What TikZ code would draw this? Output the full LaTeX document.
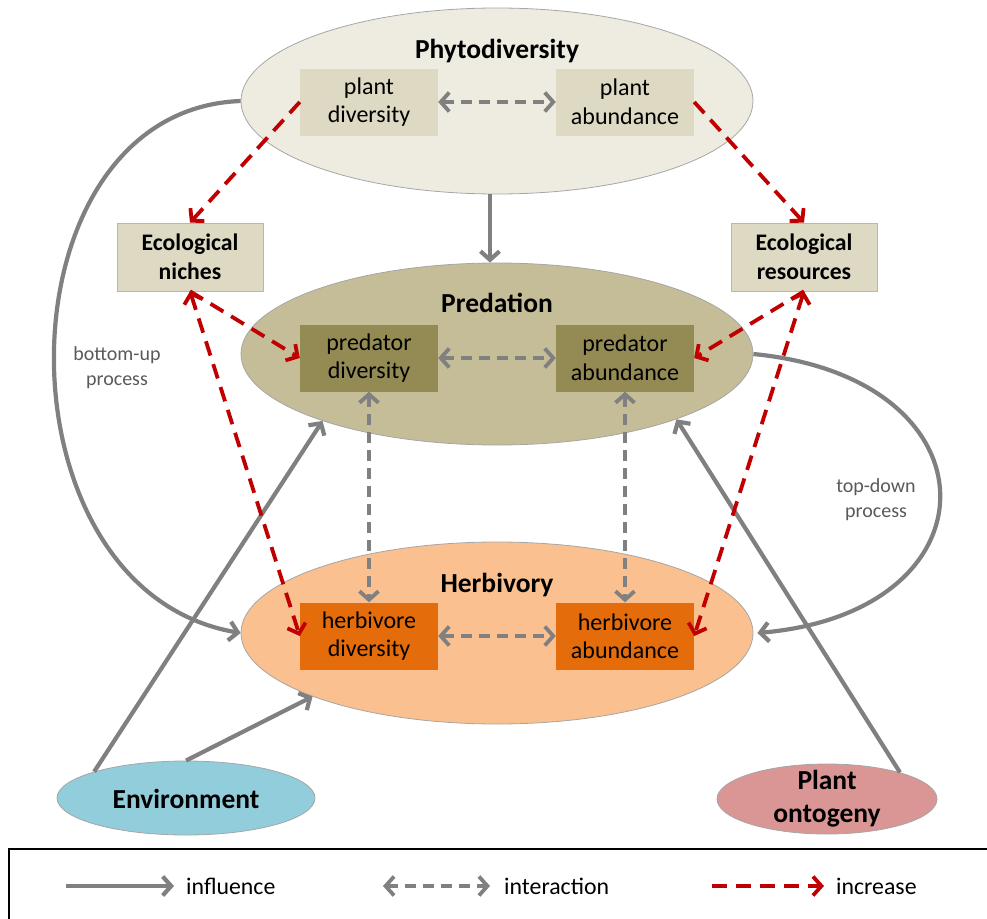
\documentclass[tikz,border=0pt]{standalone}
\usepackage{fontspec}
\setmainfont{Carlito}
\usetikzlibrary{arrows.meta,shapes.geometric}

\definecolor{phyfill}{HTML}{EEECE1}
\definecolor{phybox}{HTML}{DDD9C3}
\definecolor{predfill}{HTML}{C4BD97}
\definecolor{predbox}{HTML}{948A54}
\definecolor{herbfill}{HTML}{FAC090}
\definecolor{herbbox}{HTML}{E46C0A}
\definecolor{envfill}{HTML}{92CDDC}
\definecolor{ontofill}{HTML}{D99694}
\definecolor{linkgray}{HTML}{808080}
\definecolor{incred}{HTML}{C00000}
\definecolor{labelgray}{HTML}{595959}
\definecolor{rimgray}{HTML}{A6A6A6}

\begin{document}
\begin{tikzpicture}[x=1pt,y=-1pt,
  zone/.style={ellipse, draw=rimgray, line width=0.8pt, inner sep=0pt},
  zonetitle/.style={anchor=base, inner sep=0pt, font=\fontsize{27.5}{32}\selectfont\bfseries},
  cell/.style={rectangle, minimum width=138pt, minimum height=67pt, inner sep=0pt,
    align=center, font=\fontsize{24}{28.5}\selectfont},
  factor/.style={rectangle, fill=phybox, draw=phybox!85!black, line width=0.6pt,
    minimum width=146pt, minimum height=68pt, inner sep=0pt, align=center,
    font=\fontsize{23.7}{28.5}\selectfont\bfseries},
  driver/.style={align=center, inner sep=0pt, font=\fontsize{27.5}{33}\selectfont\bfseries},
  proclabel/.style={align=center, text=labelgray, inner sep=0pt, font=\fontsize{20}{25}\selectfont},
  legtext/.style={anchor=west, inner sep=0pt, font=\fontsize{23.8}{28}\selectfont},
  barb/.tip={Straight Barb[length=8.5pt,width=19pt]},
  inflarrow/.style={draw=linkgray, line width=4.2pt, -barb},
  interarrow/.style={draw=linkgray, line width=3.8pt, dash pattern=on 11pt off 7pt, barb-barb},
  incrarrow/.style={draw=incred, line width=3.8pt, dash pattern=on 15pt off 9pt, -barb},
  incrboth/.style={draw=incred, line width=3.8pt, dash pattern=on 15pt off 9pt, barb-barb}
]
\useasboundingbox (0,0) rectangle (987,918);

% three trophic levels
\node[zone, fill=phyfill, minimum width=512pt, minimum height=186pt] (phyto) at (497,101) {};
\node[zone, fill=predfill, minimum width=512pt, minimum height=182pt] (pred) at (497,354) {};
\node[zone, fill=herbfill, minimum width=512pt, minimum height=182pt] (herb) at (497,633) {};

\node[zonetitle] (phytotitle) at (497,58) {Phytodiversity};
\node[zonetitle] (predtitle) at (497,312) {Predation};
\node[zonetitle] (herbtitle) at (497,592) {Herbivory};

% diversity / abundance cells
\node[cell, fill=phybox] (pldiv) at (369,102) {plant\\diversity};
\node[cell, fill=phybox] (plab) at (625,102) {plant\\abundance};
\node[cell, fill=predbox] (prdiv) at (369,358) {predator\\diversity};
\node[cell, fill=predbox] (prab) at (625,358) {predator\\abundance};
\node[cell, fill=herbbox] (hbdiv) at (369,636) {herbivore\\diversity};
\node[cell, fill=herbbox] (hbab) at (625,636) {herbivore\\abundance};

% mediating factors
\node[factor] (niches) at (190,257) {Ecological\\niches};
\node[factor] (resources) at (804,257) {Ecological\\resources};

% external drivers
\node[zone, fill=envfill, minimum width=258pt, minimum height=74pt] (env) at (186,798) {};
\node[driver] (envtext) at (186,799) {Environment};
\node[zone, fill=ontofill, minimum width=220pt, minimum height=70pt] (onto) at (827,799) {};
\node[driver] (ontotext) at (827,799) {Plant\\ontogeny};

% process labels
\node[proclabel] (bulabel) at (117,368) {bottom-up\\process};
\node[proclabel] (tdlabel) at (876,500) {top-down\\process};

% influences
\draw[inflarrow] ([xshift=-7pt]phyto.south) -- ([xshift=-7pt]pred.north);
\draw[inflarrow] (phyto.west) .. controls (-5,110) and (-10,590) .. (herb.west);
\draw[inflarrow] (pred.east) .. controls (1001,378) and (1001,612) .. ([xshift=4pt]herb.east);
\draw[inflarrow] (env.164) -- (pred.201);
\draw[inflarrow] (env.north) -- (herb.199.5);
\draw[inflarrow] (onto.20) -- (pred.340);

% interactions
\draw[interarrow] (pldiv.east) -- (plab.west);
\draw[interarrow] (prdiv.east) -- (prab.west);
\draw[interarrow] (hbdiv.east) -- (hbab.west);
\draw[interarrow] (prdiv.south) -- (hbdiv.north);
\draw[interarrow] (prab.south) -- (hbab.north);

% increases
\draw[incrarrow] (pldiv.west) -- (niches.north);
\draw[incrarrow] (plab.east) -- (resources.north);
\draw[incrarrow] (niches.south) -- (prdiv.west);
\draw[incrboth] (niches.south) -- (hbdiv.west);
\draw[incrarrow] (resources.south) -- (prab.east);
\draw[incrboth] (resources.south) -- (hbab.east);

% legend
\draw[line width=2pt] (9,849) rectangle (1000,940);
\coordinate (inflA) at (66,886);
\coordinate (inflB) at (174,886);
\coordinate (interA) at (383,886);
\coordinate (interB) at (490,886);
\coordinate (incrA) at (712,886);
\coordinate (incrB) at (824,886);
\draw[inflarrow] (inflA) -- (inflB);
\draw[interarrow] (interA) -- (interB);
\draw[incrarrow] (incrA) -- (incrB);
\node[legtext] (inflT) at (186,886) {influence};
\node[legtext] (interT) at (504,886) {interaction};
\node[legtext] (incrT) at (836,886) {increase};
\end{tikzpicture}
\end{document}
